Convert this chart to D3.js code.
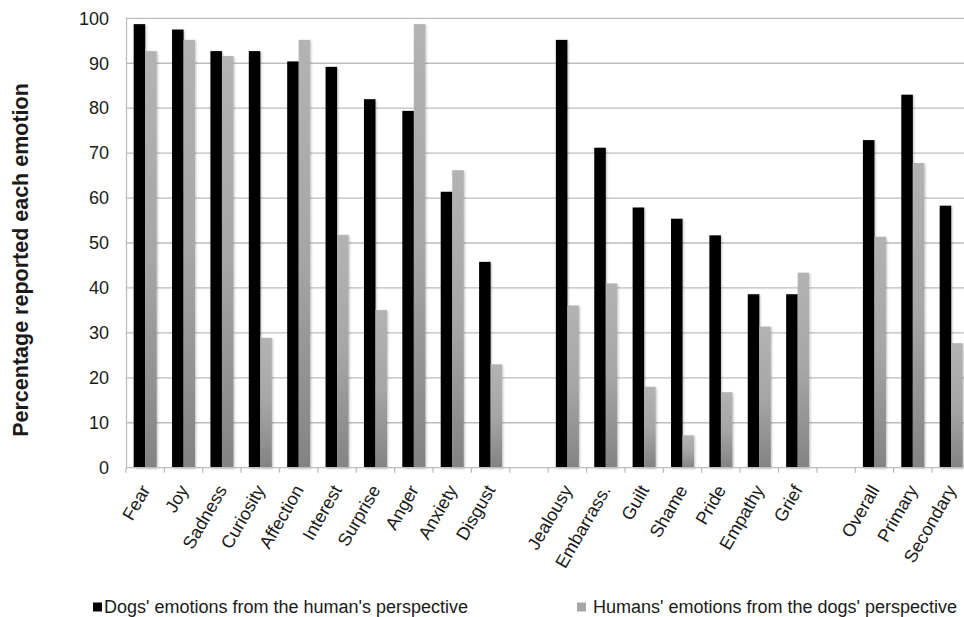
<!DOCTYPE html>
<html>
<head>
<meta charset="utf-8">
<script src="https://cdn.jsdelivr.net/npm/d3@7/dist/d3.min.js"></script>
<style>
  html, body { margin: 0; padding: 0; background: #fff; }
  svg { display: block; font-family: "Liberation Sans", Arial, sans-serif; }
</style>
</head>
<body>
<svg id="chart" width="964" height="617"></svg>
<script>
// ---- data ----
const categories = ["Fear","Joy","Sadness","Curiosity","Affection","Interest","Surprise","Anger","Anxiety","Disgust","",
                    "Jealousy","Embarrass.","Guilt","Shame","Pride","Empathy","Grief","",
                    "Overall","Primary","Secondary"];
const dogsValues = [98.7, 97.5, 92.7, 92.7, 90.4, 89.2, 82.0, 79.4, 61.4, 45.8, null,
                    95.2, 71.2, 57.9, 55.4, 51.7, 38.6, 38.6, null,
                    72.9, 83.0, 58.3];
const humansValues = [92.7, 95.2, 91.6, 28.9, 95.2, 51.8, 35.1, 98.7, 66.2, 23.0, null,
                      36.1, 41.0, 18.0, 7.2, 16.8, 31.4, 43.4, null,
                      51.4, 67.8, 27.7];
const seriesNames = ["Dogs' emotions from the human's perspective", "Humans' emotions from the dogs' perspective"];
const yTicks = [0, 10, 20, 30, 40, 50, 60, 70, 80, 90, 100];
const yTitle = "Percentage reported each emotion";

// ---- layout ----
const svg = d3.select("#chart");
const plotLeft = 126, plotRight = 970.4, plotTop = 18.3, plotBottom = 467.7;

const x = d3.scaleBand().domain(d3.range(categories.length)).range([plotLeft, plotRight]).padding(0);
const bw = x.bandwidth();
const xSub = d3.scaleBand().domain([0, 1]).range([bw * 0.2, bw * 0.8]).padding(0);
const y = d3.scaleLinear().domain([0, 100]).range([plotBottom, plotTop]);

const defs = svg.append("defs");
const grad = defs.append("linearGradient").attr("id", "greyGrad")
  .attr("x1", 0).attr("y1", 0).attr("x2", 0).attr("y2", 1);
grad.append("stop").attr("offset", "0%").attr("stop-color", "#b3b3b3");
grad.append("stop").attr("offset", "50%").attr("stop-color", "#a6a6a6");
grad.append("stop").attr("offset", "100%").attr("stop-color", "#838383");
const shadow = defs.append("filter").attr("id", "shadow")
  .attr("x", "-30%").attr("y", "-5%").attr("width", "160%").attr("height", "110%");
shadow.append("feDropShadow").attr("dx", 1).attr("dy", 1).attr("stdDeviation", 1)
  .attr("flood-color", "#000").attr("flood-opacity", 0.25);

// gridlines
svg.append("g").selectAll("line").data(yTicks.filter(d => d > 0)).join("line")
  .attr("x1", plotLeft).attr("x2", plotRight)
  .attr("y1", d => y(d)).attr("y2", d => y(d))
  .attr("stroke", "#bdbdbd").attr("stroke-width", 1.3);

// y axis
const yAxis = svg.append("g").attr("transform", `translate(${plotLeft},0)`)
  .call(d3.axisLeft(y).tickValues(yTicks).tickSize(0).tickPadding(17));
yAxis.select(".domain").attr("stroke", "#bdbdbd").attr("stroke-width", 1.3);
yAxis.selectAll("text").attr("font-size", 18).attr("fill", "#1a1a1a")
  .attr("font-family", "Liberation Sans, Arial, sans-serif");

// bars
const series = [dogsValues, humansValues];
const fills = ["#000000", "url(#greyGrad)"];
series.forEach((vals, si) => {
  svg.append("g").attr("filter", "url(#shadow)")
    .selectAll("rect").data(vals.map((v, i) => ({ v, i })).filter(d => d.v != null)).join("rect")
    .attr("x", d => x(d.i) + xSub(si))
    .attr("width", xSub.bandwidth())
    .attr("y", d => y(d.v))
    .attr("height", d => y(0) - y(d.v))
    .attr("fill", fills[si]);
});

// x axis (ticks at slot boundaries)
const xg = svg.append("g");
xg.append("line").attr("x1", plotLeft).attr("x2", plotRight)
  .attr("y1", plotBottom).attr("y2", plotBottom)
  .attr("stroke", "#bdbdbd").attr("stroke-width", 1.3);
xg.selectAll("line.tick").data(d3.range(categories.length + 1)).join("line")
  .attr("class", "tick")
  .attr("x1", i => plotLeft + i * bw).attr("x2", i => plotLeft + i * bw)
  .attr("y1", plotBottom).attr("y2", plotBottom + 5)
  .attr("stroke", "#bdbdbd").attr("stroke-width", 1.3);

xg.selectAll("text").data(categories.map((c, i) => ({ c, i })).filter(d => d.c)).join("text")
  .attr("transform", d => `translate(${x(d.i) + bw / 2 + 5.5},${plotBottom + 22}) rotate(-60)`)
  .attr("text-anchor", "end")
  .attr("font-size", 18)
  .attr("fill", "#1a1a1a")
  .text(d => d.c);

// y title
svg.append("text")
  .attr("transform", `translate(28,260) rotate(-90)`)
  .attr("text-anchor", "middle")
  .attr("font-size", 21.5).attr("font-weight", "bold").attr("fill", "#1a1a1a")
  .text(yTitle);

// legend
const legendItems = [
  { name: seriesNames[0], fill: "#000000", sx: 93, tx: 104 },
  { name: seriesNames[1], fill: "#a6a6a6", sx: 577, tx: 593 }
];
const lg = svg.append("g");
legendItems.forEach(it => {
  lg.append("rect").attr("x", it.sx).attr("y", 602.5).attr("width", 9).attr("height", 9).attr("fill", it.fill);
  lg.append("text").attr("x", it.tx).attr("y", 613).attr("font-size", 18).attr("fill", "#1a1a1a").text(it.name);
});
</script>
</body>
</html>
